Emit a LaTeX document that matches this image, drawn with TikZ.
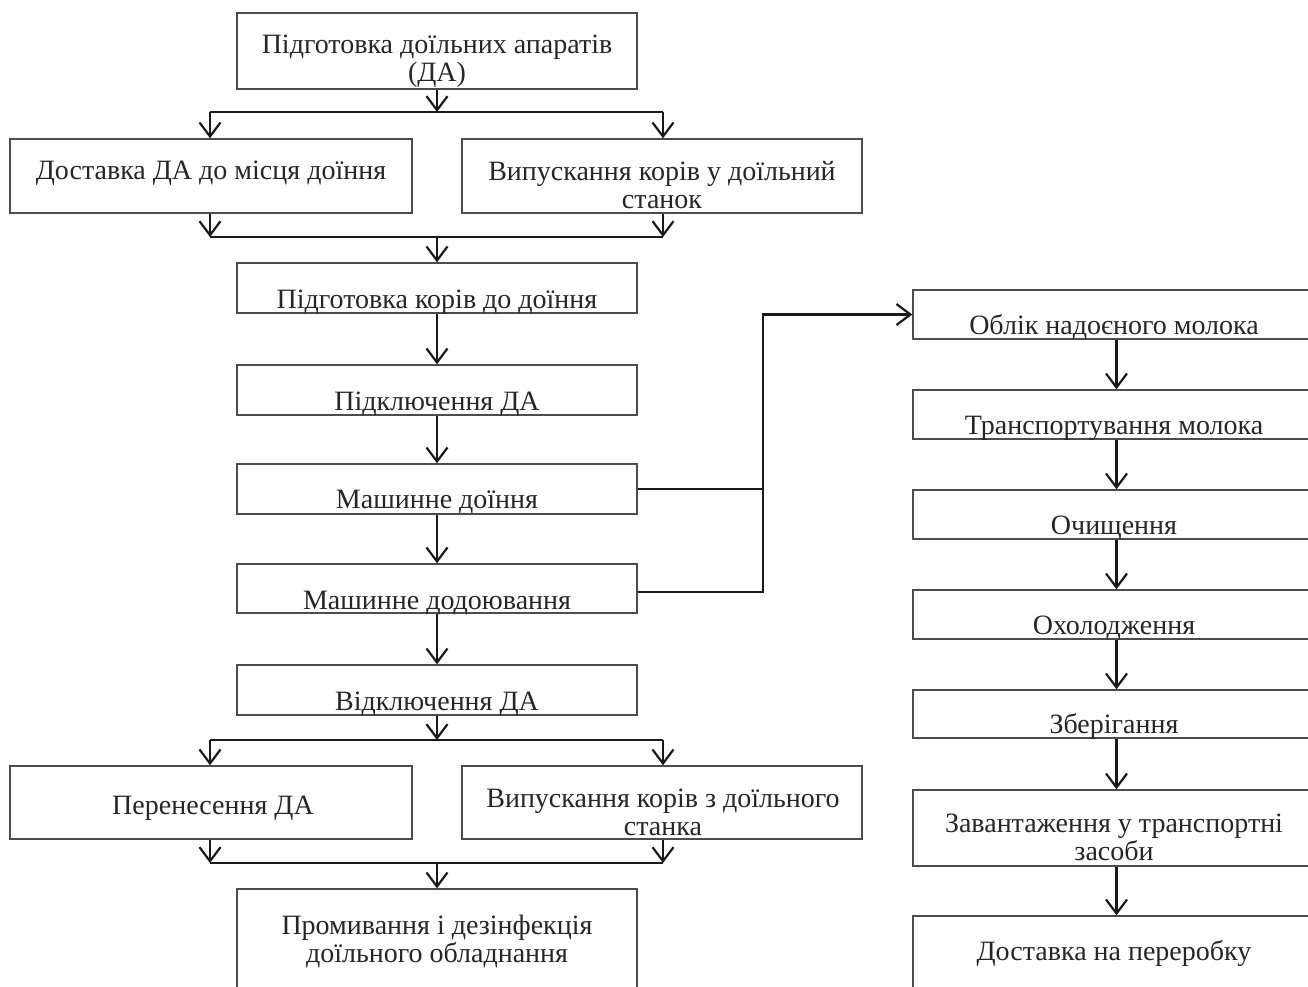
\documentclass[tikz,border=0pt]{standalone}
\usepackage{fontspec}
\setmainfont{Liberation Serif}
\usetikzlibrary{arrows.meta}
\begin{document}
\begin{tikzpicture}[x=1pt,y=-1pt,
 box/.style={draw=black!70, line width=1.4pt, rectangle, inner sep=0pt},
 txt/.style={font=\fontsize{28}{28}\selectfont, align=center, inner sep=0pt, text=black!85, anchor=base},
 conn/.style={line width=2.6pt, black!90},
 arr/.style={conn, -{Straight Barb[length=14pt,width=21pt,line width=2.2pt]}}
]
\clip (0,0) rectangle (1308,986);
\fill[white] (0,0) rectangle (1308,986);
% left column boxes
\node[box, minimum width=400pt, minimum height=76pt] (b1) at (437,51) {};
\node[box, minimum width=402pt, minimum height=74pt] (b2) at (211,176) {};
\node[box, minimum width=400pt, minimum height=74pt] (b3) at (662,176) {};
\node[box, minimum width=400pt, minimum height=50pt] (b4) at (437,288) {};
\node[box, minimum width=400pt, minimum height=50pt] (b5) at (437,390) {};
\node[box, minimum width=400pt, minimum height=50pt] (b6) at (437,489) {};
\node[box, minimum width=400pt, minimum height=49pt] (b7) at (437,588.5) {};
\node[box, minimum width=400pt, minimum height=50pt] (b8) at (437,690) {};
\node[box, minimum width=402pt, minimum height=73pt] (b9) at (211,802.5) {};
\node[box, minimum width=400pt, minimum height=73pt] (b10) at (662,802.5) {};
\node[box, minimum width=400pt, minimum height=122pt] (b11) at (437,950) {};
% right column boxes
\node[box, minimum width=407pt, minimum height=49pt] (r1) at (1116.5,314.5) {};
\node[box, minimum width=407pt, minimum height=49pt] (r2) at (1116.5,414.5) {};
\node[box, minimum width=407pt, minimum height=49pt] (r3) at (1116.5,514.5) {};
\node[box, minimum width=407pt, minimum height=49pt] (r4) at (1116.5,614.5) {};
\node[box, minimum width=407pt, minimum height=48pt] (r5) at (1116.5,714) {};
\node[box, minimum width=407pt, minimum height=76pt] (r6) at (1116.5,828) {};
\node[box, minimum width=407pt, minimum height=94pt] (r7) at (1116.5,963) {};
% texts (anchored at last baseline)
\node[txt] (t1) at (437,81.5) {Підготовка доїльних апаратів\\(ДА)};
\node[txt] (t2) at (211,179.5) {Доставка ДА до місця доїння};
\node[txt] (t3) at (662,208.5) {Випускання корів у доїльний\\станок};
\node[txt] (t4) at (437,308.5) {Підготовка корів до доїння};
\node[txt] (t5) at (437,410.5) {Підключення ДА};
\node[txt] (t6) at (437,508.5) {Машинне доїння};
\node[txt] (t7) at (437,609.5) {Машинне додоювання};
\node[txt] (t8) at (437,710.5) {Відключення ДА};
\node[txt] (t9) at (213,814.5) {Перенесення ДА};
\node[txt] (t10) at (663,835.5) {Випускання корів з доїльного\\станка};
\node[txt] (t11) at (437,962.5) {Промивання і дезінфекція\\доїльного обладнання};
\node[txt] (tr1) at (1114,334.5) {Облік надоєного молока};
\node[txt] (tr2) at (1114,434.5) {Транспортування молока};
\node[txt] (tr3) at (1114,534.5) {Очищення};
\node[txt] (tr4) at (1114,634.5) {Охолодження};
\node[txt] (tr5) at (1114,733.5) {Зберігання};
\node[txt] (tr6) at (1114,860.5) {Завантаження у транспортні\\засоби};
\node[txt] (tr7) at (1114,960.5) {Доставка на переробку};
% junction points
\coordinate (s1l) at (210,112);
\coordinate (s1c) at (437,112);
\coordinate (s1r) at (663,112);
\coordinate (m1l) at (210,237);
\coordinate (m1c) at (437,237);
\coordinate (m1r) at (663,237);
\coordinate (s2l) at (210,740);
\coordinate (s2c) at (437,740);
\coordinate (s2r) at (663,740);
\coordinate (m2l) at (210,863);
\coordinate (m2c) at (437,863);
\coordinate (m2r) at (663,863);
\coordinate (v) at (763,314.5);
% connectors top split/merge
\draw[arr] (b1.south) -- (s1c);
\draw[conn] (s1l) -- (s1r);
\draw[arr] (s1l) -- (s1l |- b2.north);
\draw[arr] (s1r) -- (s1r |- b3.north);
\draw[arr] (m1l |- b2.south) -- (m1l);
\draw[arr] (m1r |- b3.south) -- (m1r);
\draw[conn] (m1l) -- (m1r);
\draw[arr] (m1c) -- (b4.north);
% main chain
\draw[arr] (b4.south) -- (b5.north);
\draw[arr] (b5.south) -- (b6.north);
\draw[arr] (b6.south) -- (b7.north);
\draw[arr] (b7.south) -- (b8.north);
% bottom split/merge
\draw[arr] (b8.south) -- (s2c);
\draw[conn] (s2l) -- (s2r);
\draw[arr] (s2l) -- (s2l |- b9.north);
\draw[arr] (s2r) -- (s2r |- b10.north);
\draw[arr] (m2l |- b9.south) -- (m2l);
\draw[arr] (m2r |- b10.south) -- (m2r);
\draw[conn] (m2l) -- (m2r);
\draw[arr] (m2c) -- (b11.north);
% to right column
\draw[conn] (b6.east) -- (b6.east -| v);
\draw[arr] ([yshift=-3.5pt]b7.east) -| (v) -- (r1.west);
% right chain
\draw[arr] (r1.south) -- (r2.north);
\draw[arr] (r2.south) -- (r3.north);
\draw[arr] (r3.south) -- (r4.north);
\draw[arr] (r4.south) -- (r5.north);
\draw[arr] (r5.south) -- (r6.north);
\draw[arr] (r6.south) -- (r7.north);
\end{tikzpicture}
\end{document}
